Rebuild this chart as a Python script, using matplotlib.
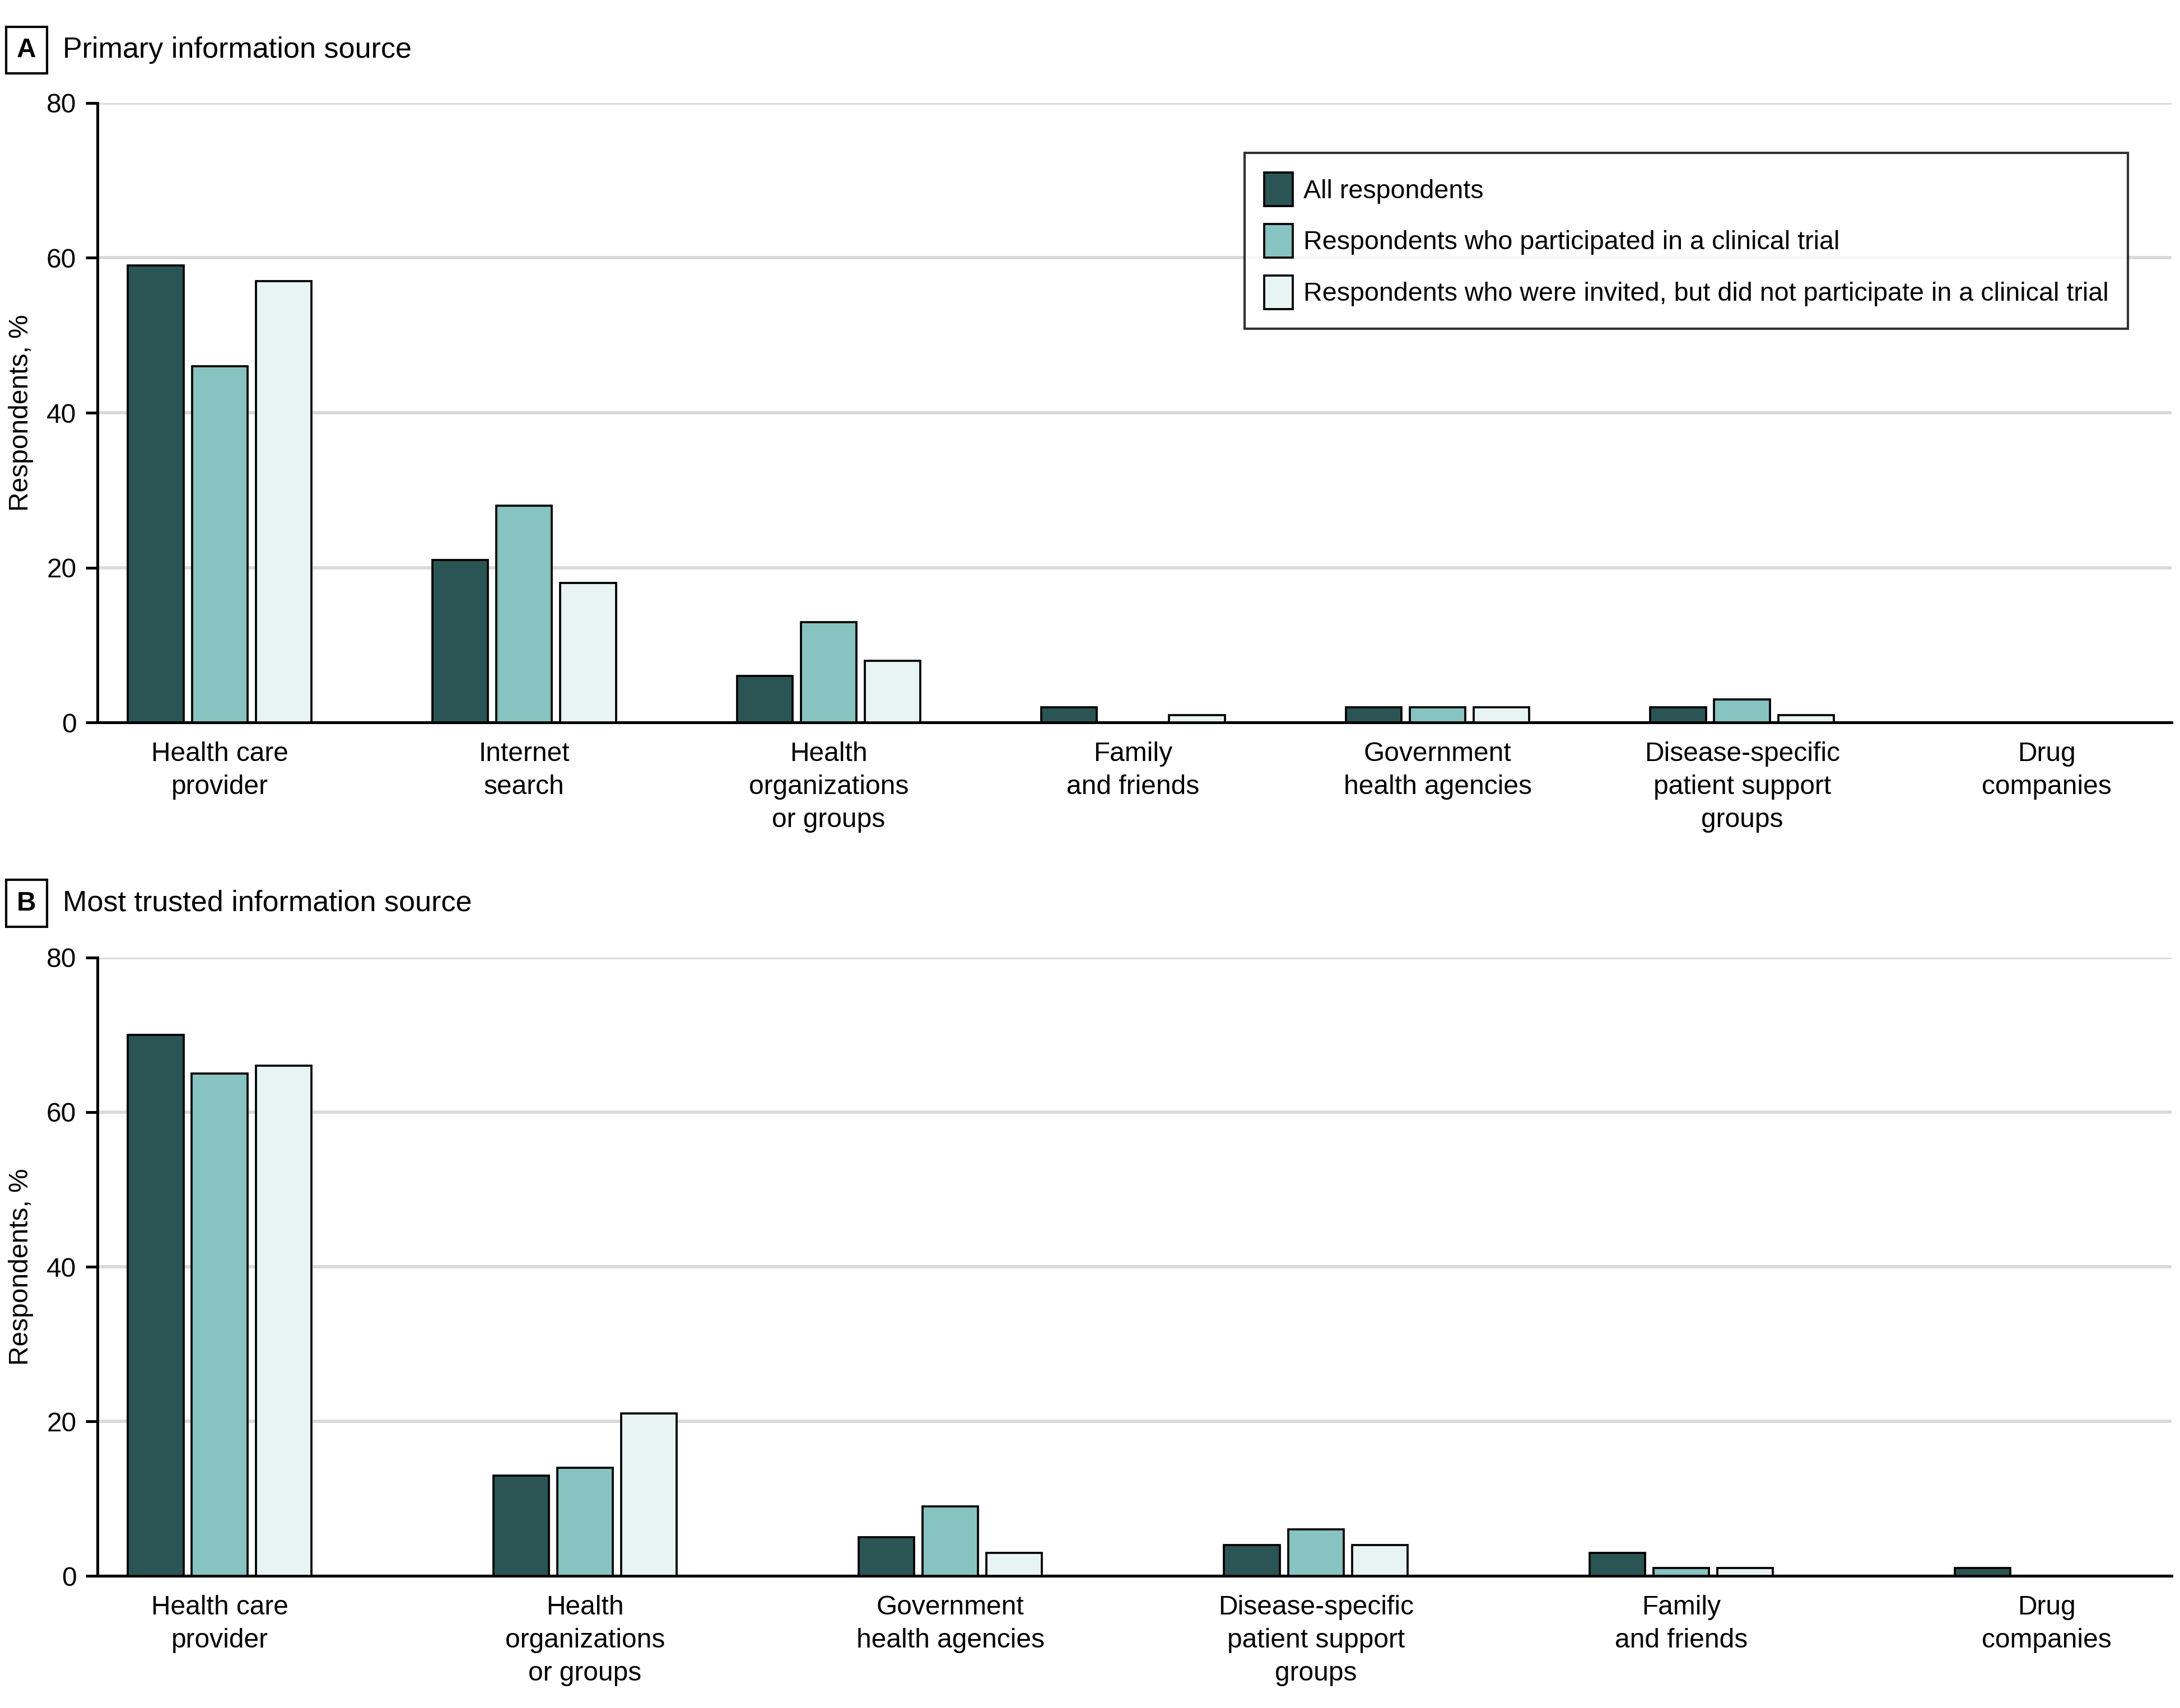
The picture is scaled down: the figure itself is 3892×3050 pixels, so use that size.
##### Packages #####
import numpy as np
import matplotlib.pyplot as plt
from matplotlib.patches import Patch

##### Data #####
series_labels = ['All respondents',
                 'Respondents who participated in a clinical trial',
                 'Respondents who were invited, but did not participate in a clinical trial']

# panel A - primary information source
cats_a = ['Health care\nprovider', 'Internet\nsearch', 'Health\norganizations\nor groups',
          'Family\nand friends', 'Government\nhealth agencies',
          'Disease-specific\npatient support\ngroups', 'Drug\ncompanies']
all_a = [59, 21, 6, 2, 2, 2, 0]
part_a = [46, 28, 13, 0, 2, 3, 0]
inv_a = [57, 18, 8, 1, 2, 1, 0]

# panel B - most trusted information source
cats_b = ['Health care\nprovider', 'Health\norganizations\nor groups', 'Government\nhealth agencies',
          'Disease-specific\npatient support\ngroups', 'Family\nand friends', 'Drug\ncompanies']
all_b = [70, 13, 5, 4, 3, 1]
part_b = [65, 14, 9, 6, 1, 0]
inv_b = [66, 21, 3, 4, 1, 0]

##### Style #####
colors = ['#2b5555', '#86c3c1', '#e8f3f3']
plt.rcParams.update({
    'font.family': ['Liberation Sans', 'DejaVu Sans'],
    'font.size': 11.5,
    'axes.linewidth': 1.2,
})
FS = 11.5

fig = plt.figure(figsize=(3892 / 300, 3050 / 300), dpi=300)
W, H = 1568, 1229  # reference layout units


def draw_panel(ax, cats, vals, spacing):
    # spacing = distance between group centres in layout units, bars ~40 wide
    x = np.arange(len(cats))
    bw = 40 / spacing
    off = 46 / spacing
    for i, v in enumerate(vals):
        ax.bar(x + (i - 1) * off, v, width=bw, color=colors[i],
               edgecolor='black', linewidth=0.9, zorder=3)
    ax.set_xlim(-88 / spacing, len(cats) - 1 + 90 / spacing)
    ax.set_ylim(0, 80)
    ax.set_yticks([0, 20, 40, 60, 80])
    ax.yaxis.grid(True, color='#d9d9d9', linewidth=1.4, zorder=0)
    ax.set_axisbelow(True)
    ax.set_xticks(x)
    ax.set_xticklabels(cats, linespacing=1.4)
    ax.tick_params(axis='x', length=0, pad=8, labelsize=FS)
    ax.tick_params(axis='y', length=5, width=1.2, pad=4, labelsize=FS)
    for s in ['top', 'right']:
        ax.spines[s].set_visible(False)
    ax.spines['bottom'].set_linewidth(1.2)
    ax.set_ylabel('Respondents, %', fontsize=FS)
    ax.yaxis.set_label_coords(-46 / 1492, 0.5)


ax_a = fig.add_axes([70 / W, 1 - 520 / H, (1562 - 70) / W, (520 - 74) / H])
draw_panel(ax_a, cats_a, [all_a, part_a, inv_a], 219)

ax_b = fig.add_axes([70 / W, 1 - 1134 / H, (1562 - 70) / W, (1134 - 689) / H])
draw_panel(ax_b, cats_b, [all_b, part_b, inv_b], 263)

# legend in panel A
handles = [Patch(facecolor=c, edgecolor='black', linewidth=0.9) for c in colors]
leg = ax_a.legend(handles, series_labels, loc='upper right', bbox_to_anchor=(0.979, 0.919),
                  fontsize=11.2, frameon=True, fancybox=False, edgecolor='black',
                  handlelength=1.1, handleheight=1.6, handletextpad=0.4,
                  labelspacing=0.68, borderpad=0.75, borderaxespad=0)
leg.get_frame().set_linewidth(1.0)

# panel titles
for lab, title, ypos in [('A', 'Primary information source', 1 - 36 / H),
                         ('B', 'Most trusted information source', 1 - 650 / H)]:
    fig.text(19 / W, ypos, lab, fontsize=11.5, fontweight='bold', ha='center', va='center',
             bbox=dict(boxstyle='square,pad=0.4', facecolor='white', edgecolor='black', linewidth=1.0))
    fig.text(45 / W, ypos, title, fontsize=12.5, ha='left', va='center')

fig.savefig('out.png', dpi=300)
